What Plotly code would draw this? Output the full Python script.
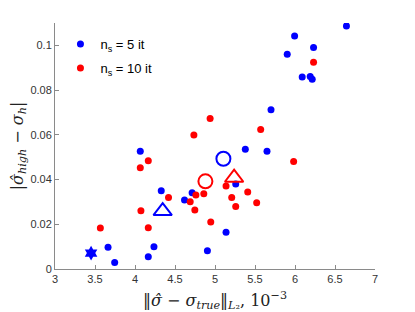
import plotly.graph_objects as go

# ---- data ----
blue_x = [3.663, 3.746, 4.066, 4.166, 4.237, 4.328, 4.619, 4.714, 4.905, 5.138, 5.259,
          5.379, 5.650, 5.700, 5.903, 5.995, 6.090, 6.190, 6.215, 6.232, 6.643]
blue_y = [0.0097, 0.0029, 0.0526, 0.0055, 0.0100, 0.0350, 0.0308, 0.0341, 0.0082, 0.0164, 0.0380,
          0.0536, 0.0527, 0.0712, 0.0960, 0.1042, 0.0858, 0.0861, 0.0849, 0.0991, 0.1087]

red_x = [3.567, 4.066, 4.074, 4.166, 4.166, 4.419, 4.690, 4.736, 4.748, 4.761, 4.860,
         4.939, 4.947, 5.138, 5.209, 5.259, 5.409, 5.521, 5.571, 5.983, 6.232]
red_y = [0.0183, 0.0453, 0.0261, 0.0484, 0.0185, 0.0320, 0.0301, 0.0599, 0.0264, 0.0331, 0.0337,
         0.0673, 0.0210, 0.0371, 0.0320, 0.0280, 0.0344, 0.0296, 0.0624, 0.0481, 0.0925]

star_x = [3.451]
star_y = [0.0071]

blue_circle_x = [5.105]
blue_circle_y = [0.0493]
red_circle_x = [4.880]
red_circle_y = [0.0392]

blue_tri_x = [4.346]
blue_tri_y = [0.0259]
red_tri_x = [5.239]
red_tri_y = [0.0408]

x_ticks = [3, 3.5, 4, 4.5, 5, 5.5, 6, 6.5, 7]
x_tick_labels = ["3", "3.5", "4", "4.5", "5", "5.5", "6", "6.5", "7"]
y_ticks = [0, 0.02, 0.04, 0.06, 0.08, 0.1]
y_tick_labels = ["0", "0.02", "0.04", "0.06", "0.08", "0.1"]

legend_names = ["n<sub>s</sub> = 5 it", "n<sub>s</sub> = 10 it"]

BLUE = "#0000ff"
RED = "#ff0000"

fig = go.Figure()
fig.add_trace(go.Scatter(x=blue_x, y=blue_y, mode="markers", name=legend_names[0], legendgroup="a",
                         marker=dict(color=BLUE, size=7, line=dict(width=0))))
fig.add_trace(go.Scatter(x=red_x, y=red_y, mode="markers", name=legend_names[1], legendgroup="b",
                         marker=dict(color=RED, size=7, line=dict(width=0))))
fig.add_trace(go.Scatter(x=star_x, y=star_y, mode="markers", showlegend=False,
                         marker=dict(color=BLUE, size=11, symbol="hexagram", line=dict(width=0))))
fig.add_trace(go.Scatter(x=blue_circle_x, y=blue_circle_y, mode="markers", showlegend=False,
                         marker=dict(color=BLUE, size=14, symbol="circle-open", line=dict(width=2, color=BLUE))))
fig.add_trace(go.Scatter(x=red_circle_x, y=red_circle_y, mode="markers", showlegend=False,
                         marker=dict(color=RED, size=14, symbol="circle-open", line=dict(width=2, color=RED))))
fig.add_trace(go.Scatter(x=blue_tri_x, y=blue_tri_y, mode="markers", showlegend=False,
                         marker=dict(color=BLUE, size=16, symbol="triangle-up-open", line=dict(width=2, color=BLUE))))
fig.add_trace(go.Scatter(x=red_tri_x, y=red_tri_y, mode="markers", showlegend=False,
                         marker=dict(color=RED, size=16, symbol="triangle-up-open", line=dict(width=2, color=RED))))

axis_common = dict(
    showgrid=False, zeroline=False, showline=True, linecolor="#8a8a8a", linewidth=1,
    ticks="inside", ticklen=4, tickcolor="#8a8a8a", tickwidth=1,
    tickfont=dict(family="Liberation Sans, Arial, sans-serif", size=11, color="#333333"),
    mirror=False, automargin=False,
)

title_font = dict(family="DejaVu Serif, serif", size=16, color="#222222")

fig.update_xaxes(range=[3, 7], tickvals=x_ticks, ticktext=x_tick_labels,
                 title=dict(text="‖<i>σ̂</i> − <i>σ</i><sub><i>true</i></sub>‖<sub><i>L</i>₂</sub>, 10<sup>−3</sup>",
                            font=title_font),
                 **axis_common)
fig.update_yaxes(range=[0, 0.11], tickvals=y_ticks, ticktext=y_tick_labels,
                 title=dict(text="|<i>σ̂</i><sub><i>high</i></sub> − <i>σ</i><sub><i>h</i></sub>|",
                            font=title_font),
                 **axis_common)

# page body has an 8px default margin, so the figure is sized/offset to compensate
fig.update_layout(
    width=407, height=304,
    margin=dict(l=46.5, r=39.7, t=14.7, b=42.9),
    plot_bgcolor="white", paper_bgcolor="white",
    legend=dict(x=0.017, y=0.975, xanchor="left", yanchor="top", tracegroupgap=4,
                bgcolor="rgba(0,0,0,0)", borderwidth=0,
                font=dict(family="Liberation Sans, Arial, sans-serif", size=13, color="#000000")),
)

fig.write_html("out.html")
